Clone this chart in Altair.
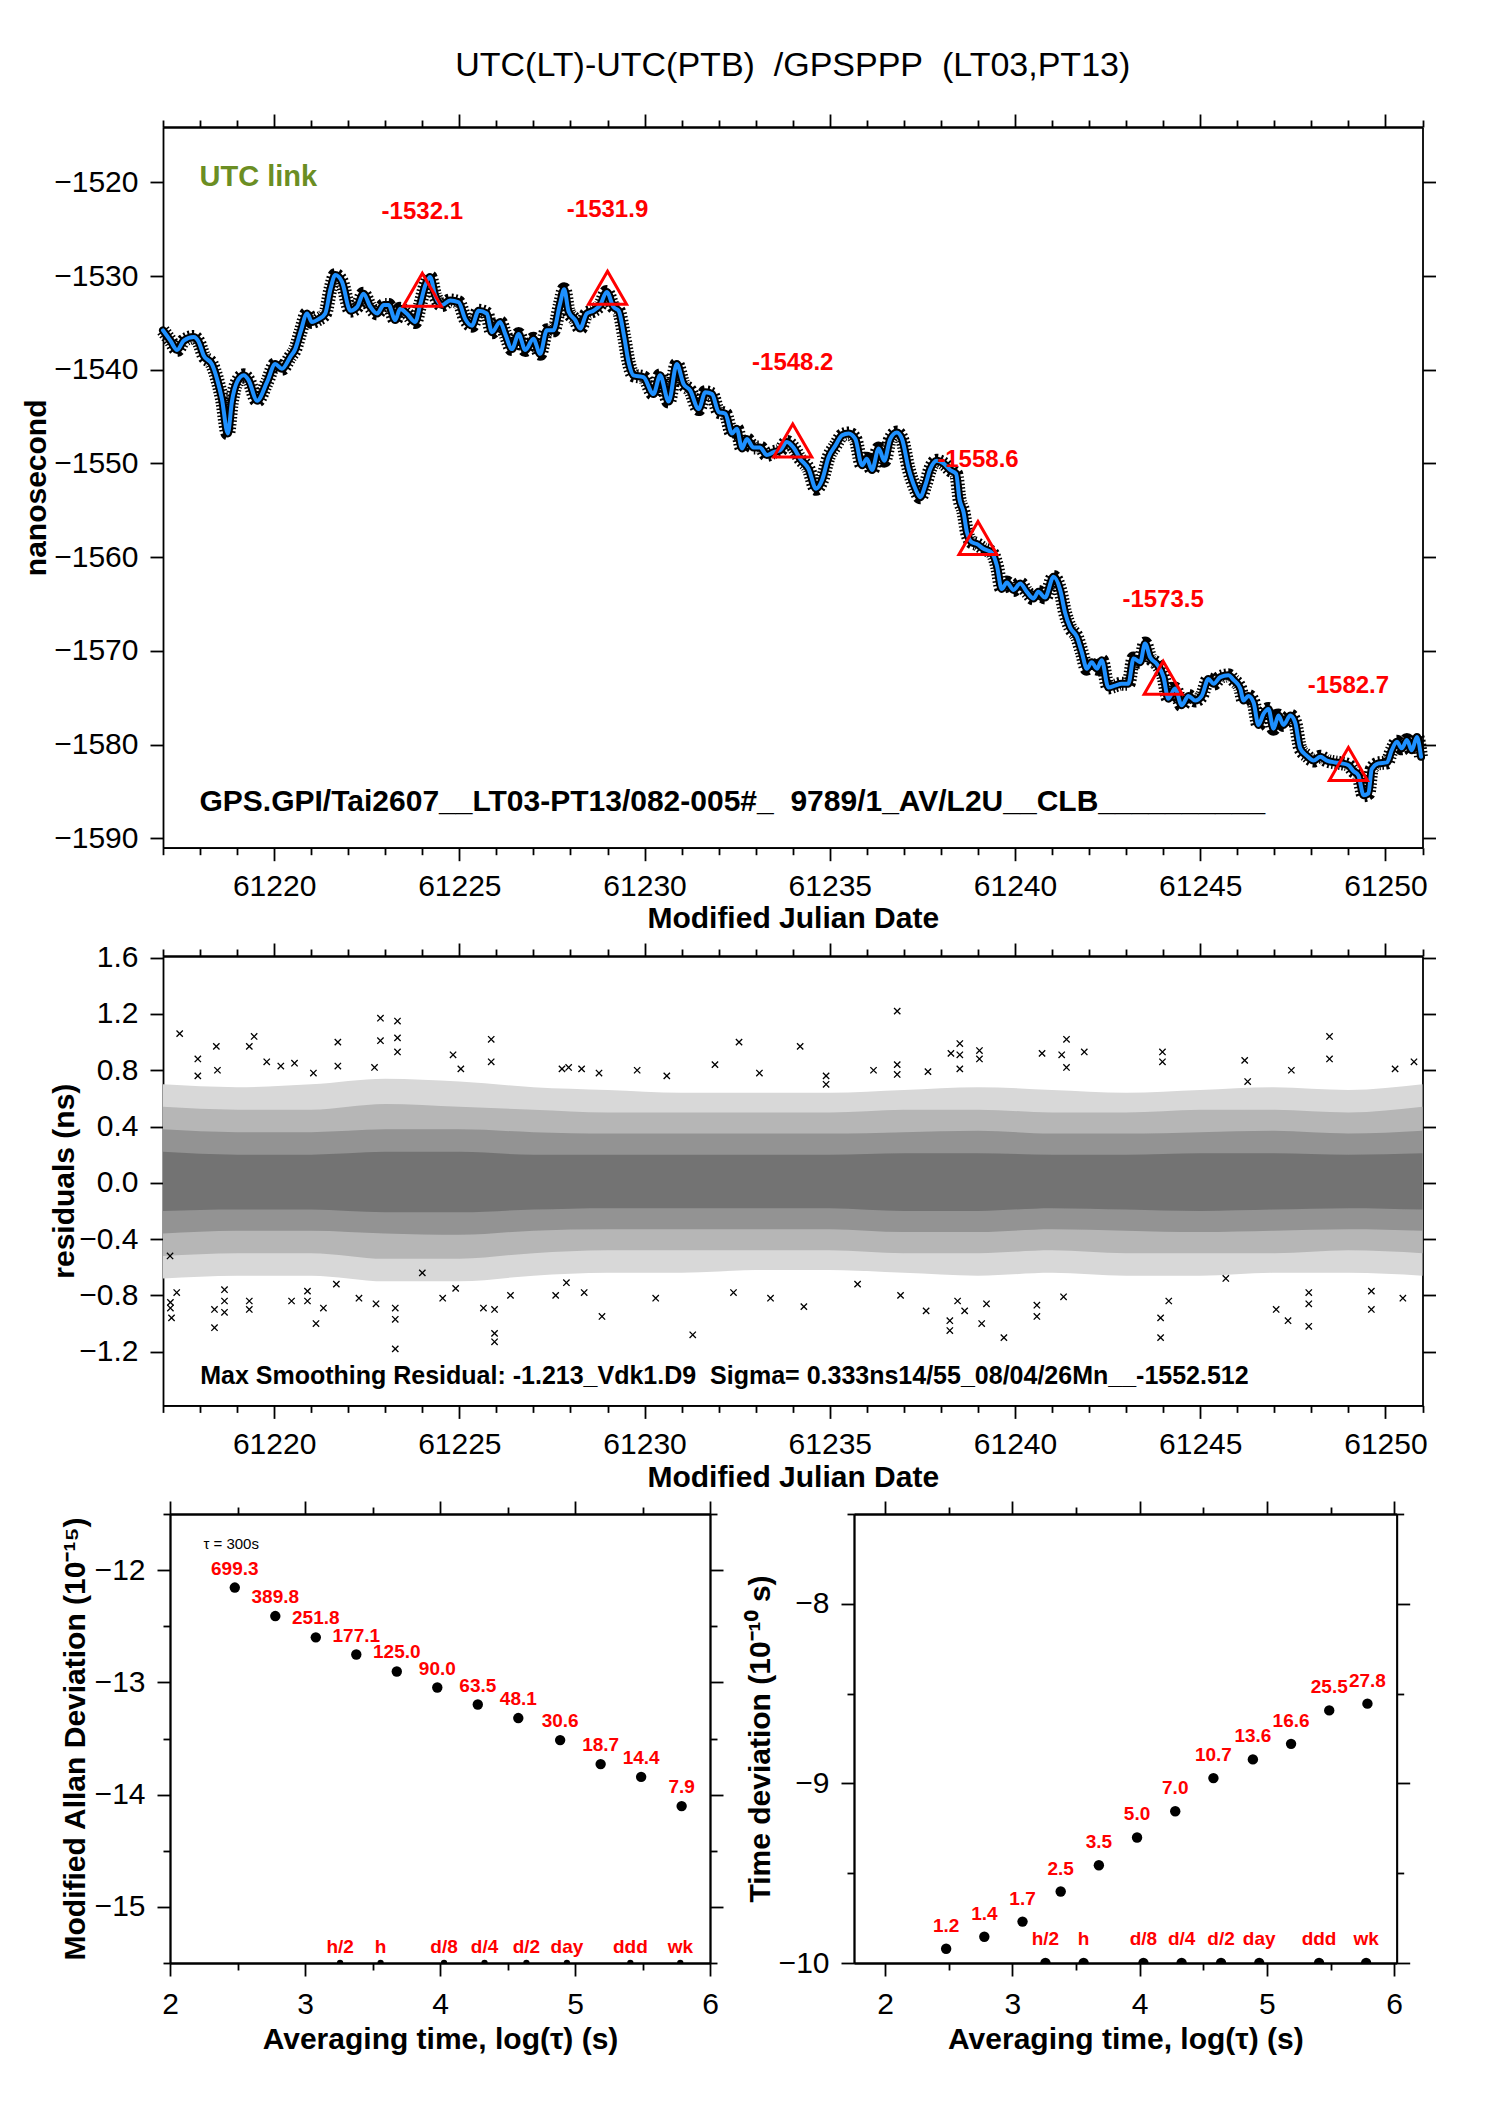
import altair as alt
import pandas as pd

FONT = "Liberation Sans"
RED = "#ff0000"

# ---------------- texts ----------------
title_text = "UTC(LT)-UTC(PTB)\u00a0\u00a0/GPSPPP\u00a0\u00a0(LT03,PT13)"
link_text = "UTC link"
gps_text = "GPS.GPI/Tai2607__LT03-PT13/082-005#_\u00a0\u00a09789/1_AV/L2U__CLB__________"
resid_text = "Max Smoothing Residual: -1.213_Vdk1.D9\u00a0\u00a0Sigma= 0.333ns14/55_08/04/26Mn__-1552.512"
tau_text = "\u03c4 = 300s"
mjd_title = "Modified Julian Date"
top_ytitle = "nanosecond"
mid_ytitle = "residuals (ns)"
avg_title = "Averaging time, log(\u03c4) (s)"
mdev_title = "Modified Allan Deviation (10\u207b\u00b9\u2075)"
tdev_title = "Time deviation (10\u207b\u00b9\u2070 s)"

# ---------------- top panel: UTC link ----------------
curve_mjd = [61217.0, 61217.2, 61217.38, 61217.56, 61217.83, 61217.96, 61218.1, 61218.32, 61218.46, 61218.59,
             61218.75, 61218.86, 61219.0, 61219.18, 61219.31, 61219.54, 61219.81, 61220.03, 61220.21, 61220.44,
             61220.57, 61220.71, 61220.89, 61221.02, 61221.2, 61221.38, 61221.52, 61221.65, 61221.83, 61222.06,
             61222.24, 61222.41, 61222.6, 61222.78, 61222.96, 61223.09, 61223.27, 61223.4, 61223.58, 61223.81,
             61223.94, 61224.08, 61224.21, 61224.35, 61224.53, 61224.75, 61224.98, 61225.16, 61225.34, 61225.52,
             61225.74, 61225.88, 61226.1, 61226.24, 61226.42, 61226.6, 61226.78, 61227.0, 61227.18, 61227.36,
             61227.54, 61227.71, 61227.83, 61227.95, 61228.13, 61228.26, 61228.44, 61228.62, 61228.8, 61228.98,
             61229.16, 61229.3, 61229.45, 61229.57, 61229.7, 61229.97, 61230.24, 61230.42, 61230.65, 61230.87,
             61231.05, 61231.23, 61231.46, 61231.64, 61231.82, 61232.0, 61232.18, 61232.36, 61232.49, 61232.63,
             61232.76, 61232.94, 61233.12, 61233.3, 61233.48, 61233.66, 61233.84, 61234.02, 61234.2, 61234.43,
             61234.63, 61234.79, 61234.97, 61235.15, 61235.33, 61235.51, 61235.69, 61235.87, 61236.0, 61236.14,
             61236.32, 61236.47, 61236.63, 61236.81, 61236.95, 61237.13, 61237.31, 61237.44, 61237.58, 61237.71,
             61237.89, 61238.07, 61238.25, 61238.41, 61238.5, 61238.61, 61238.7, 61238.83, 61238.97, 61239.15,
             61239.37, 61239.51, 61239.64, 61239.78, 61239.96, 61240.14, 61240.32, 61240.5, 61240.63, 61240.81,
             61241.04, 61241.22, 61241.35, 61241.49, 61241.67, 61241.8, 61241.94, 61242.07, 61242.21, 61242.34,
             61242.52, 61242.7, 61242.88, 61243.06, 61243.2, 61243.38, 61243.51, 61243.65, 61243.83, 61244.01,
             61244.14, 61244.32, 61244.5, 61244.68, 61244.86, 61245.04, 61245.22, 61245.36, 61245.54, 61245.76,
             61245.9, 61246.08, 61246.17, 61246.3, 61246.44, 61246.57, 61246.71, 61246.84, 61246.98, 61247.11,
             61247.25, 61247.43, 61247.56, 61247.7, 61247.88, 61248.06, 61248.24, 61248.42, 61248.64, 61248.82,
             61249.0, 61249.13, 61249.27, 61249.41, 61249.54, 61249.63, 61249.81, 61250.04, 61250.17, 61250.31,
             61250.44, 61250.58, 61250.71, 61250.85, 61250.96]
curve_ns = [-1535.8, -1536.9, -1537.9, -1536.9, -1536.5, -1537.0, -1538.5, -1539.4, -1541.0, -1543.1,
            -1546.8, -1543.4, -1541.3, -1540.6, -1541.1, -1543.3, -1541.3, -1539.4, -1539.9, -1538.6,
            -1537.8, -1536.0, -1534.0, -1534.9, -1534.6, -1534.0, -1531.4, -1529.9, -1530.6, -1533.7,
            -1533.3, -1531.9, -1533.3, -1534.0, -1533.1, -1533.1, -1534.7, -1533.5, -1534.0, -1534.9,
            -1533.1, -1531.0, -1530.1, -1532.1, -1533.1, -1532.6, -1532.8, -1534.6, -1535.3, -1533.7,
            -1534.0, -1536.0, -1534.9, -1536.2, -1537.8, -1536.2, -1537.9, -1536.7, -1538.3, -1535.8,
            -1535.8, -1533.1, -1531.4, -1533.8, -1534.7, -1535.6, -1534.0, -1533.7, -1533.1, -1531.7,
            -1533.3, -1533.7, -1536.5, -1539.2, -1540.6, -1540.8, -1542.6, -1540.6, -1543.4, -1539.4,
            -1541.5, -1542.2, -1544.2, -1542.4, -1542.6, -1544.5, -1544.7, -1546.8, -1546.3, -1548.4,
            -1547.4, -1548.3, -1548.3, -1549.1, -1548.8, -1548.6, -1547.7, -1548.3, -1549.5, -1550.6,
            -1552.7, -1551.8, -1549.3, -1548.1, -1547.0, -1546.8, -1547.4, -1550.2, -1549.5, -1550.7,
            -1548.4, -1549.7, -1547.4, -1546.7, -1547.4, -1550.6, -1552.7, -1553.6, -1552.3, -1550.6,
            -1549.7, -1550.0, -1550.7, -1551.1, -1553.8, -1555.2, -1557.3, -1558.4, -1558.6, -1559.1,
            -1559.5, -1560.9, -1563.4, -1562.7, -1563.5, -1562.8, -1563.7, -1564.4, -1563.7, -1564.3,
            -1562.1, -1563.5, -1565.9, -1567.5, -1568.5, -1570.1, -1571.9, -1571.2, -1571.9, -1571.0,
            -1573.9, -1573.7, -1573.5, -1573.5, -1570.8, -1571.2, -1569.2, -1570.7, -1571.4, -1572.8,
            -1575.1, -1574.0, -1575.8, -1574.8, -1575.3, -1574.8, -1573.0, -1573.5, -1572.8, -1572.6,
            -1573.1, -1574.0, -1575.3, -1574.8, -1575.5, -1577.9, -1576.7, -1576.2, -1578.3, -1576.9,
            -1577.9, -1576.9, -1577.6, -1580.4, -1581.2, -1581.7, -1581.3, -1581.7, -1581.9, -1582.0,
            -1582.2, -1582.8, -1583.3, -1585.4, -1585.2, -1582.6, -1582.0, -1581.9, -1580.6, -1579.7,
            -1580.4, -1579.5, -1580.6, -1579.2, -1581.3]

tri_mjd = [61224, 61229, 61234, 61239, 61244, 61249]
tri_ns = [-1532.1, -1531.9, -1548.2, -1558.6, -1573.5, -1582.7]
tri_labels = ["-1532.1", "-1531.9", "-1548.2", "-1558.6", "-1573.5", "-1582.7"]

mjd_major = [61220, 61225, 61230, 61235, 61240, 61245, 61250]
mjd_minor = [d for d in range(61217, 61252) if d % 5 != 0]
top_yticks = [-1590, -1580, -1570, -1560, -1550, -1540, -1530, -1520]

# ---------------- middle panel: residuals ----------------
band_mjd = [61217, 61219, 61221, 61223, 61225, 61227, 61229, 61231, 61233, 61235,
            61237, 61239, 61241, 61243, 61245, 61247, 61249, 61251]
outer_hi = [0.70, 0.68, 0.70, 0.74, 0.72, 0.68, 0.66, 0.64, 0.64, 0.64, 0.66, 0.68, 0.66, 0.64, 0.66, 0.68, 0.66, 0.70]
outer_lo = [-0.68, -0.66, -0.66, -0.70, -0.70, -0.66, -0.64, -0.64, -0.62, -0.62, -0.64, -0.66, -0.64, -0.66, -0.66, -0.64, -0.64, -0.66]
mid_hi = [0.54, 0.52, 0.52, 0.56, 0.54, 0.52, 0.50, 0.50, 0.50, 0.50, 0.52, 0.52, 0.50, 0.50, 0.52, 0.52, 0.50, 0.54]
mid_lo = [-0.52, -0.50, -0.50, -0.54, -0.54, -0.50, -0.48, -0.48, -0.48, -0.48, -0.50, -0.50, -0.48, -0.50, -0.50, -0.50, -0.48, -0.50]
inner_hi = [0.38, 0.36, 0.36, 0.38, 0.38, 0.36, 0.35, 0.35, 0.35, 0.35, 0.36, 0.37, 0.35, 0.35, 0.36, 0.37, 0.35, 0.37]
inner_lo = [-0.36, -0.34, -0.34, -0.36, -0.37, -0.34, -0.33, -0.33, -0.33, -0.33, -0.35, -0.35, -0.33, -0.34, -0.35, -0.34, -0.33, -0.34]
core_hi = [0.22, 0.20, 0.20, 0.22, 0.22, 0.20, 0.20, 0.20, 0.20, 0.20, 0.21, 0.21, 0.20, 0.20, 0.21, 0.21, 0.20, 0.21]
core_lo = [-0.20, -0.19, -0.19, -0.21, -0.21, -0.19, -0.18, -0.18, -0.18, -0.18, -0.20, -0.20, -0.18, -0.19, -0.20, -0.19, -0.18, -0.19]

out_mjd = [61217.45, 61217.94, 61217.94, 61218.44, 61218.47, 61219.33, 61219.46, 61219.8, 61220.18, 61220.55,
           61221.06, 61221.72, 61221.72, 61222.87, 61222.87, 61223.33, 61223.33, 61223.33, 61222.71, 61224.83,
           61225.04, 61225.86, 61225.86, 61227.77, 61227.95, 61228.3, 61228.77,
           61217.19, 61217.2, 61217.2, 61217.23, 61217.37, 61218.39, 61218.39, 61218.66, 61218.66, 61218.66,
           61219.33, 61219.33, 61220.47, 61220.9, 61220.9, 61221.13, 61221.33, 61221.68, 61222.29, 61222.75,
           61223.27, 61223.27, 61223.27, 61224.0, 61224.55, 61224.9, 61225.65, 61225.95, 61225.95, 61225.95,
           61226.38, 61227.6, 61227.89, 61228.37, 61228.85,
           61229.8, 61230.6, 61231.9, 61232.55, 61233.1, 61234.2, 61230.3, 61231.3, 61232.4, 61233.4, 61234.3,
           61234.9, 61234.9, 61236.18, 61236.82, 61236.82, 61236.82, 61237.65, 61238.27, 61238.51, 61238.51,
           61238.51, 61239.04, 61239.04, 61240.73, 61241.26, 61241.39, 61241.39, 61241.87, 61243.98, 61243.98,
           61246.2, 61246.28, 61247.46, 61248.49, 61248.49, 61250.26, 61250.77,
           61235.75, 61236.91, 61237.6, 61238.24, 61238.24, 61238.45, 61238.64, 61239.1, 61239.23, 61239.7,
           61240.59, 61240.59, 61241.31, 61243.93, 61243.93, 61244.15, 61245.69, 61247.05, 61247.37, 61247.93,
           61247.93, 61247.93, 61249.62, 61249.62, 61250.47]
out_val = [1.06, 0.88, 0.76, 0.97, 0.80, 0.97, 1.04, 0.86, 0.83, 0.85,
           0.78, 1.00, 0.83, 1.17, 1.01, 1.15, 1.03, 0.93, 0.82, 0.91,
           0.81, 1.02, 0.86, 0.81, 0.82, 0.81, 0.78,
           -0.52, -0.85, -0.89, -0.96, -0.78, -0.90, -1.03, -0.76, -0.84, -0.92,
           -0.84, -0.90, -0.84, -0.77, -0.84, -1.00, -0.89, -0.72, -0.82, -0.86,
           -0.89, -0.97, -1.18, -0.64, -0.82, -0.75, -0.89, -0.90, -1.07, -1.13,
           -0.80, -0.80, -0.71, -0.78, -0.95,
           0.80, 0.76, 0.84, 1.00, 0.78, 0.97, -0.82, -1.08, -0.78, -0.82, -0.88,
           0.76, 0.70, 0.80, 1.22, 0.84, 0.77, 0.79, 0.92, 0.99, 0.91,
           0.81, 0.94, 0.88, 0.92, 0.91, 1.02, 0.82, 0.93, 0.93, 0.86,
           0.87, 0.72, 0.80, 1.04, 0.88, 0.81, 0.86,
           -0.72, -0.80, -0.91, -0.98, -1.05, -0.84, -0.91, -1.00, -0.86, -1.10,
           -0.95, -0.87, -0.81, -0.96, -1.10, -0.84, -0.68, -0.90, -0.98, -0.78,
           -0.86, -1.02, -0.77, -0.90, -0.82]
mid_yticks = [-1.2, -0.8, -0.4, 0.0, 0.4, 0.8, 1.2, 1.6]

# ---------------- bottom panels ----------------
tau_log = [2.48, 2.78, 3.08, 3.38, 3.68, 3.98, 4.28, 4.58, 4.89, 5.19, 5.49, 5.79]
mdev_vals = [699.3, 389.8, 251.8, 177.1, 125.0, 90.0, 63.5, 48.1, 30.6, 18.7, 14.4, 7.9]
mdev_labels = ["699.3", "389.8", "251.8", "177.1", "125.0", "90.0", "63.5", "48.1", "30.6", "18.7", "14.4", "7.9"]
tdev_vals = [1.2, 1.4, 1.7, 2.5, 3.5, 5.0, 7.0, 10.7, 13.6, 16.6, 25.5, 27.8]
tdev_labels = ["1.2", "1.4", "1.7", "2.5", "3.5", "5.0", "7.0", "10.7", "13.6", "16.6", "25.5", "27.8"]
mark_log = [3.26, 3.56, 4.03, 4.33, 4.64, 4.94, 5.41, 5.78]
mark_names = ["h/2", "h", "d/8", "d/4", "d/2", "day", "ddd", "wk"]

# ---------------- helpers ----------------
AX = dict(domainColor="black", domainWidth=1.8, tickColor="black", tickWidth=1.8,
          grid=False, labelFlush=False, labelOverlap=False, labelFont=FONT,
          labelFontSize=30, labelColor="black", titleFont=FONT, titleFontSize=30,
          titleFontWeight="bold", titleColor="black")


def frame_layers(base, xf, yf, xs, ys, xmaj, xmin, ymaj, ymin, xfmt, yfmt,
                 xtitle, ytitle, xlp, xtp, xext, yext, ytp):
    L = []
    L.append(base.mark_point(opacity=0).encode(
        x=alt.X(xf, scale=xs, axis=alt.Axis(orient="bottom", values=xmaj, format=xfmt, tickSize=13,
                                            labelPadding=xlp, title=xtitle, titlePadding=xtp,
                                            minExtent=xext, maxExtent=xext, **AX)),
        y=alt.Y(yf, scale=ys, axis=alt.Axis(orient="left", values=ymaj, format=yfmt, tickSize=13,
                                            labelPadding=12, title=ytitle, titlePadding=ytp,
                                            minExtent=yext, maxExtent=yext, **AX))))
    L.append(base.mark_point(opacity=0).encode(
        x=alt.X(xf, scale=xs, axis=alt.Axis(orient="top", values=xmaj, labels=False, tickSize=13,
                                            title=None, **AX)),
        y=alt.Y(yf, scale=ys, axis=alt.Axis(orient="right", values=ymaj, labels=False, tickSize=13,
                                            title=None, **AX))))
    yl = alt.Axis(orient="left", values=ymin, labels=False, tickSize=7, title=None, **AX) if ymin else None
    yr = alt.Axis(orient="right", values=ymin, labels=False, tickSize=7, title=None, **AX) if ymin else None
    L.append(base.mark_point(opacity=0).encode(
        x=alt.X(xf, scale=xs, axis=alt.Axis(orient="bottom", values=xmin, labels=False, tickSize=7,
                                            title=None, **AX)),
        y=alt.Y(yf, scale=ys, axis=yl)))
    L.append(base.mark_point(opacity=0).encode(
        x=alt.X(xf, scale=xs, axis=alt.Axis(orient="top", values=xmin, labels=False, tickSize=7,
                                            title=None, **AX)),
        y=alt.Y(yf, scale=ys, axis=yr)))
    return L


def note(text, x, y, size, color="black", weight="bold", align="left", baseline="alphabetic"):
    return alt.Chart(pd.DataFrame({"t": [text]})).mark_text(
        align=align, baseline=baseline, font=FONT, fontSize=size, fontWeight=weight, color=color
    ).encode(x=alt.value(x), y=alt.value(y), text="t:N")


# ---------------- top panel ----------------
TW, TH = 1259.5, 720.7
XS_T = alt.Scale(domain=[61217, 61251], nice=False, zero=False)
YS_T = alt.Scale(domain=[-1591.0, -1514.1], nice=False, zero=False)

curve_df = pd.DataFrame({"mjd": curve_mjd, "ns": curve_ns})
tri_df = pd.DataFrame({"mjd": tri_mjd, "ns": tri_ns, "lab": tri_labels})
top_base = alt.Chart(curve_df)

top_layers = frame_layers(top_base, "mjd:Q", "ns:Q", XS_T, YS_T, mjd_major, mjd_minor, top_yticks, [],
                          "d", "d", mjd_title, top_ytitle, 11, 4, 52, 105, 7)
xe = alt.X("mjd:Q", scale=XS_T, axis=None)
ye = alt.Y("ns:Q", scale=YS_T, axis=None)
top_layers += [
    top_base.mark_line(color="black", strokeWidth=14, strokeDash=[1.5, 2.0], interpolate="monotone").encode(x=xe, y=ye),
    top_base.mark_line(color="black", strokeWidth=8, strokeJoin="round", strokeCap="round",
                       interpolate="monotone").encode(x=xe, y=ye),
    top_base.mark_line(color="#1e90ff", strokeWidth=4, strokeJoin="round", strokeCap="round",
                       interpolate="monotone").encode(x=xe, y=ye),
    alt.Chart(tri_df).mark_point(shape="triangle-up", size=1450, filled=False, color=RED, strokeWidth=3,
                                 opacity=1, yOffset=-6).encode(x=xe, y=ye),
    alt.Chart(tri_df).mark_text(font=FONT, fontSize=24, fontWeight="bold", color=RED, dy=-84,
                                baseline="middle").encode(x=xe, y=ye, text="lab:N"),
    note(link_text, 36.5, 59, 29, color="#6b8e23"),
    note(gps_text, 36.5, 684.3, 30),
]
top = alt.layer(*top_layers).resolve_axis(x="independent", y="independent").properties(
    width=TW, height=TH,
    title=alt.TitleParams(title_text, anchor="middle", frame="group", font=FONT, fontSize=34,
                          fontWeight="normal", color="black", offset=30),
)

# ---------------- middle panel ----------------
MH = 449.4
YS_M = alt.Scale(domain=[-1.582, 1.612], nice=False, zero=False)
band_df = pd.DataFrame({"mjd": band_mjd, "ohi": outer_hi, "olo": outer_lo, "mhi": mid_hi, "mlo": mid_lo,
                        "ihi": inner_hi, "ilo": inner_lo, "chi": core_hi, "clo": core_lo})
out_df = pd.DataFrame({"mjd": out_mjd, "r": out_val})
mid_base = alt.Chart(out_df)
mid_layers = frame_layers(mid_base, "mjd:Q", "r:Q", XS_T, YS_M, mjd_major, mjd_minor, mid_yticks, [],
                          "d", ".1f", mjd_title, mid_ytitle, 11, 5, 52, 80, 3.5)
bb = alt.Chart(band_df)
mx = alt.X("mjd:Q", scale=XS_T, axis=None)
for lo, hi, col in [("olo", "ohi", "#d8d8d8"), ("mlo", "mhi", "#b6b6b6"),
                    ("ilo", "ihi", "#939393"), ("clo", "chi", "#737373")]:
    mid_layers.append(bb.mark_area(color=col, interpolate="monotone").encode(
        x=mx, y=alt.Y(f"{lo}:Q", scale=YS_M, axis=None), y2=f"{hi}:Q"))
mid_layers += [
    mid_base.mark_point(shape="M -1 -1 L 1 1 M -1 1 L 1 -1", size=40, color="black", strokeWidth=1.3,
                        filled=False, opacity=1).encode(
        x=mx, y=alt.Y("r:Q", scale=YS_M, axis=None)),
    note(resid_text, 37.2, 428.4, 25),
]
mid = alt.layer(*mid_layers).resolve_axis(x="independent", y="independent").properties(width=TW, height=MH)

# ---------------- bottom-left: MDEV ----------------
BH = 449
XS_BL = alt.Scale(domain=[2, 6], nice=False, zero=False)
YS_BL = alt.Scale(domain=[-15.5, -11.5], nice=False, zero=False)
mdev_df = pd.DataFrame({"x": tau_log, "v": mdev_vals, "lab": mdev_labels})
mark_df = pd.DataFrame({"x": mark_log, "lab": mark_names})
bl_base = alt.Chart(mdev_df).transform_calculate(y="log(datum.v * 1e-15) / LN10")
bl_layers = frame_layers(bl_base, "x:Q", "y:Q", XS_BL, YS_BL, [2, 3, 4, 5, 6], [2.5, 3.5, 4.5, 5.5],
                         [-15, -14, -13, -12], [-15.5, -14.5, -13.5, -12.5, -11.5], "d", "d",
                         avg_title, mdev_title, 13, 6, 55, 74, 6)
bx = alt.X("x:Q", scale=XS_BL, axis=None)
by = alt.Y("y:Q", scale=YS_BL, axis=None)
bl_layers += [
    bl_base.mark_circle(size=108, color="black", opacity=1).encode(x=bx, y=by),
    bl_base.mark_text(font=FONT, fontSize=19, fontWeight="bold", color=RED, dy=-19,
                      baseline="middle").encode(x=bx, y=by, text="lab:N"),
    alt.Chart(mark_df).mark_circle(size=40, color="black", opacity=1, clip=True).encode(x=bx, y=alt.value(BH)),
    alt.Chart(mark_df).mark_text(font=FONT, fontSize=19, fontWeight="bold", color=RED,
                                 baseline="middle").encode(x=bx, y=alt.value(BH - 16), text="lab:N"),
    note(tau_text, 33.4, 30, 15, weight="normal", baseline="middle"),
]
bl = alt.layer(*bl_layers).resolve_axis(x="independent", y="independent").properties(width=540, height=BH)

# ---------------- bottom-right: TDEV ----------------
XS_BR = alt.Scale(domain=[1.756, 6.02], nice=False, zero=False)
YS_BR = alt.Scale(domain=[-10, -7.5], nice=False, zero=False)
tdev_df = pd.DataFrame({"x": tau_log, "v": tdev_vals, "lab": tdev_labels})
br_base = alt.Chart(tdev_df).transform_calculate(y="log(datum.v * 1e-10) / LN10")
br_layers = frame_layers(br_base, "x:Q", "y:Q", XS_BR, YS_BR, [2, 3, 4, 5, 6], [2.5, 3.5, 4.5, 5.5],
                         [-10, -9, -8], [-9.5, -8.5, -7.5], "d", "d",
                         avg_title, tdev_title, 13, 6, 55, 74, 5)
rx = alt.X("x:Q", scale=XS_BR, axis=None)
ry = alt.Y("y:Q", scale=YS_BR, axis=None)
br_layers += [
    br_base.mark_circle(size=108, color="black", opacity=1).encode(x=rx, y=ry),
    br_base.mark_text(font=FONT, fontSize=19, fontWeight="bold", color=RED, dy=-23,
                      baseline="middle").encode(x=rx, y=ry, text="lab:N"),
    alt.Chart(mark_df).mark_circle(size=108, color="black", opacity=1, clip=True).encode(x=rx, y=alt.value(BH)),
    alt.Chart(mark_df).mark_text(font=FONT, fontSize=19, fontWeight="bold", color=RED,
                                 baseline="middle").encode(x=rx, y=alt.value(BH - 24), text="lab:N"),
]
br = alt.layer(*br_layers).resolve_axis(x="independent", y="independent").properties(width=542.7, height=BH)

spacer = alt.Chart(pd.DataFrame({"s": [0]})).mark_point(opacity=0).encode(
    x=alt.X("s:Q", axis=None), y=alt.Y("s:Q", axis=None)).properties(width=6.8, height=BH)

bottom = alt.hconcat(spacer, alt.hconcat(bl, br, spacing=144, bounds="flush"), spacing=0, bounds="flush")

chart = alt.vconcat(top, mid, bottom, spacing=108, bounds="flush").properties(
    padding={"left": 12, "top": 40, "right": 5, "bottom": 5},
    background="white",
).configure_view(stroke="transparent")

chart.save("out.html", embed_options={"renderer": "svg", "actions": False})
